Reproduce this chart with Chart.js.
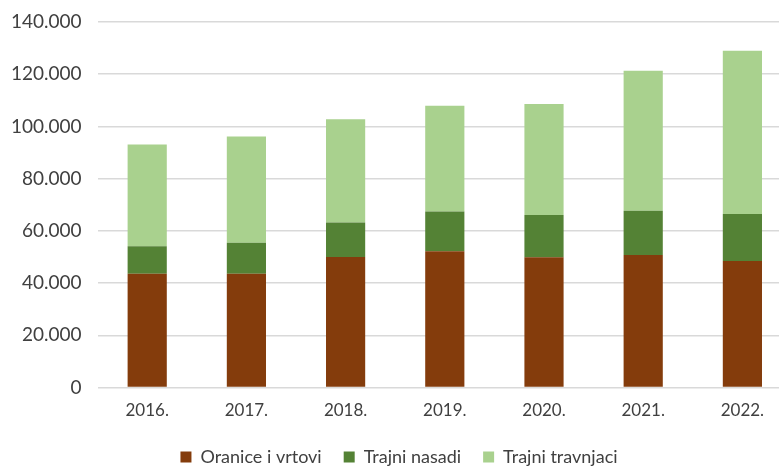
<!DOCTYPE html>
<html>
<head>
<meta charset="utf-8">
<script src="https://cdn.jsdelivr.net/npm/chart.js@4.4.1/dist/chart.umd.min.js"></script>
<style>
  html, body { margin: 0; padding: 0; background: #fff; overflow: hidden; }
  #wrap { position: relative; width: 792px; height: 467px; }
</style>
</head>
<body>
<div id="wrap"><canvas id="landChart"></canvas></div>
<script>
// godine (x os)
var years = ["2016.", "2017.", "2018.", "2019.", "2020.", "2021.", "2022."];

// površine po kategorijama
var oranice = [43600, 43600, 50000, 52200, 49900, 50800, 48500];
var nasadi = [10500, 11900, 13200, 15200, 16200, 16900, 18000];
var travnjaci = [39000, 40650, 39600, 40550, 42500, 53600, 62500];

// y os
var yMax = 140000, yStep = 20000;

var font = "Lato, 'Open Sans', sans-serif";

var ctx = document.getElementById("landChart").getContext("2d");
new Chart(ctx, {
    type: "bar",
    data: {
        labels: years,
        datasets: [
            { label: "Oranice i vrtovi", data: oranice, backgroundColor: "#843c0c" },
            { label: "Trajni nasadi", data: nasadi, backgroundColor: "#548235" },
            { label: "Trajni travnjaci", data: travnjaci, backgroundColor: "#a9d18e" }
        ]
    },
    options: {
        responsive: true,
        maintainAspectRatio: false,
        animation: false,
        // donji padding negativan da legenda sjedne niže
        layout: { padding: { left: 6, top: 22, right: 0, bottom: -9 } },
        datasets: { bar: { categoryPercentage: 1, barPercentage: 0.395 } },
        plugins: {
            tooltip: { enabled: false },
            legend: {
                position: "bottom",
                labels: {
                    font: { family: font, size: 18 },
                    color: "#404040",
                    boxWidth: 11,
                    boxHeight: 11,
                    padding: 22
                }
            }
        },
        scales: {
            x: {
                stacked: true,
                grid: { display: false },
                border: { display: false },
                ticks: { font: { family: font, size: 17 }, color: "#404040", padding: 5 }
            },
            y: {
                stacked: true,
                min: 0,
                max: yMax,
                border: { display: false },
                grid: { color: "#d9d9d9", lineWidth: 1.5, drawTicks: true, tickLength: 11, tickColor: "rgba(0,0,0,0)" },
                ticks: {
                    stepSize: yStep,
                    font: { family: font, size: 19 },
                    color: "#404040",
                    padding: 5,
                    callback: function (v) {
                        return String(v).replace(/\B(?=(\d{3})+(?!\d))/g, ".");
                    }
                }
            }
        }
    }
});
</script>
</body>
</html>
